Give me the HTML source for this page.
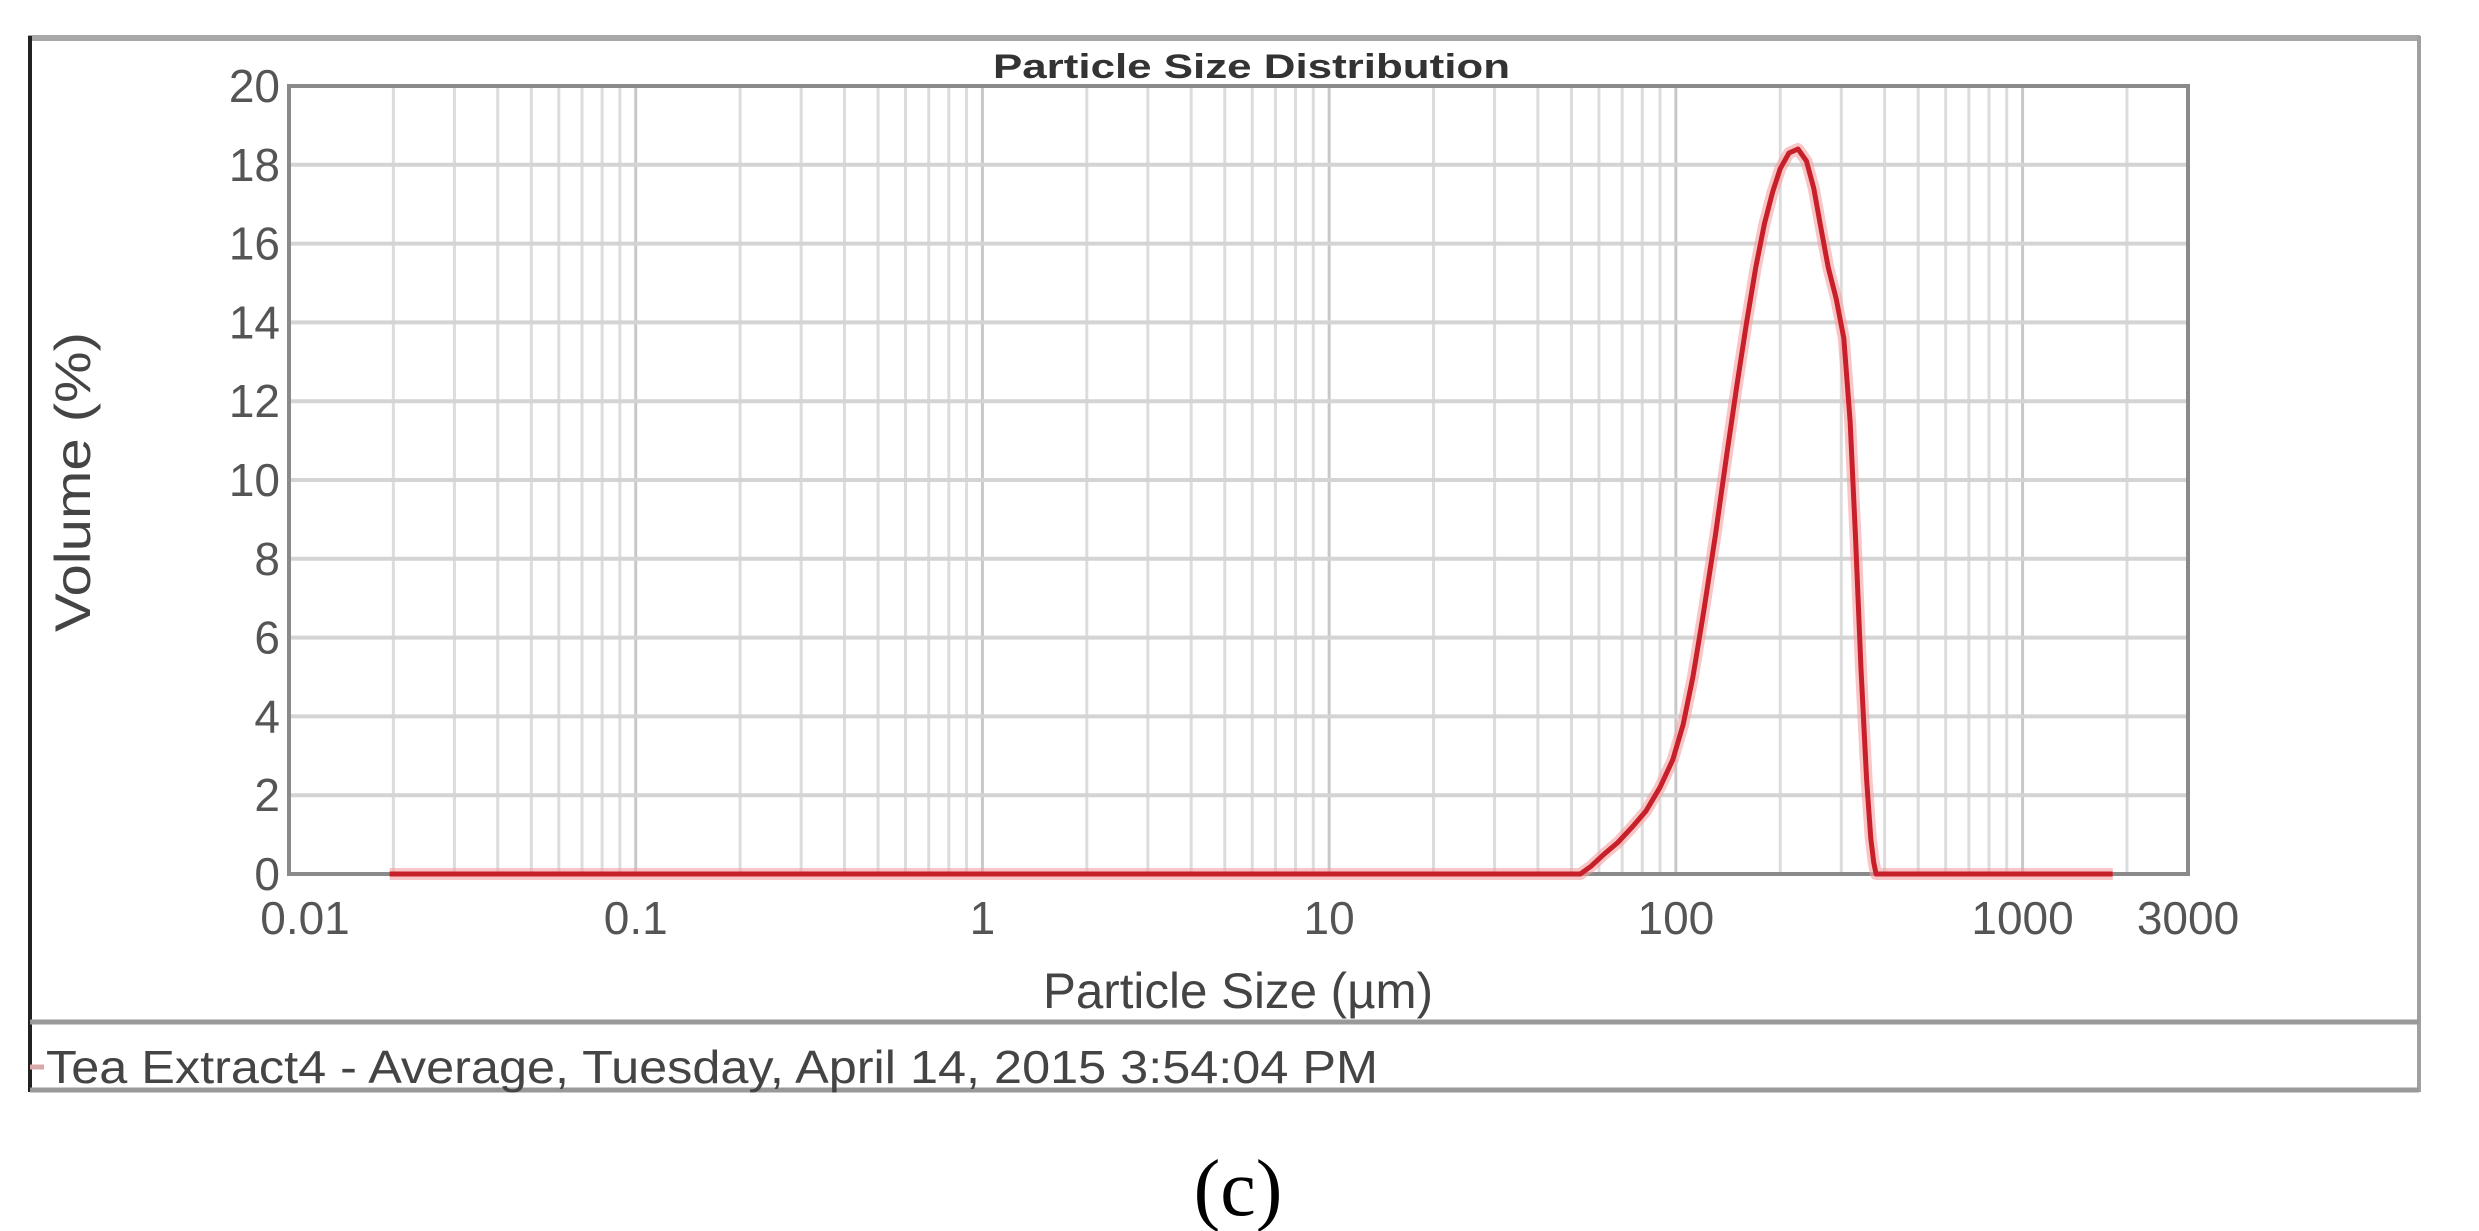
<!DOCTYPE html>
<html><head><meta charset="utf-8"><style>
html,body{margin:0;padding:0;background:#fff;}
svg{display:block;font-family:"Liberation Sans Narrow","Liberation Sans",sans-serif;}
</style></head><body>
<svg id="chart" width="2479" height="1231" viewBox="0 0 2479 1231" xmlns="http://www.w3.org/2000/svg">
<rect x="0" y="0" width="2479" height="1231" fill="#fff"/>
<line x1="28" y1="38" x2="2420" y2="38" stroke="#a8a8a8" stroke-width="6"/>
<line x1="2419" y1="36" x2="2419" y2="1092" stroke="#a0a0a0" stroke-width="4"/>
<line x1="30" y1="36" x2="30" y2="1092" stroke="#222" stroke-width="4"/>
<line x1="30" y1="1022" x2="2419" y2="1022" stroke="#999" stroke-width="5"/>
<line x1="30" y1="1090" x2="2419" y2="1090" stroke="#999" stroke-width="5"/>
<g id="grid"></g>
<rect x="289" y="86" width="1899" height="788" fill="none" stroke="#8a8a8a" stroke-width="4"/>
<g id="yticks"></g>
<g id="xticks"></g>
<path id="curve-glow" fill="none" stroke="#f4a0a0" stroke-width="12" stroke-linejoin="round" opacity="0.6"/>
<path id="curve" fill="none" stroke="#c8202a" stroke-width="5" stroke-linejoin="round"/>
<text x="993" y="78" textLength="517" lengthAdjust="spacingAndGlyphs" font-size="34" font-weight="bold" fill="#333">Particle Size Distribution</text>
<text x="1043" y="1008" textLength="390" lengthAdjust="spacingAndGlyphs" font-size="50" fill="#444">Particle Size (µm)</text>
<text transform="translate(90,632) rotate(-90)" textLength="300" lengthAdjust="spacingAndGlyphs" font-size="50" fill="#444">Volume (%)</text>
<line x1="30" y1="1067" x2="44" y2="1067" stroke="#d8a8a8" stroke-width="5"/>
<text x="46" y="1083" textLength="1332" lengthAdjust="spacingAndGlyphs" font-size="46" fill="#444">Tea Extract4 - Average, Tuesday, April 14, 2015 3:54:04 PM</text>
<text x="1238" y="1215" text-anchor="middle" font-size="80" font-family="Liberation Serif, serif" fill="#000">(c)</text>
</svg>
<script>
const sizes = [0.0195, 53, 57, 62, 68, 75, 82, 90, 98, 105, 112, 120, 130, 140, 150, 160, 170, 180, 190, 200, 212, 225, 238, 250, 262, 275, 290, 305, 318, 330, 342, 355, 365, 372, 378, 1820];
const volumes = [0, 0, 0.2, 0.5, 0.8, 1.2, 1.6, 2.2, 2.9, 3.8, 5.0, 6.6, 8.6, 10.6, 12.4, 14.0, 15.4, 16.5, 17.3, 17.9, 18.3, 18.4, 18.1, 17.4, 16.4, 15.4, 14.6, 13.6, 11.5, 8.5, 5.2, 2.4, 0.9, 0.3, 0, 0];
const yTicks = [0, 2, 4, 6, 8, 10, 12, 14, 16, 18, 20];
const xTickValues = [0.01, 0.1, 1, 10, 100, 1000, 3000];
const xTickLabels = ["0.01", "0.1", "1", "10", "100", "1000", "3000"];

const NS = "http://www.w3.org/2000/svg";
const L = 289, R = 2188, T = 86, B = 874;
const xMin = Math.log10(0.01), xMax = Math.log10(3000);
function xs(v){ return L + (Math.log10(v) - xMin) / (xMax - xMin) * (R - L); }
function ys(v){ return B - v / 20 * (B - T); }

const grid = document.getElementById('grid');
for (let d = -2; d <= 3; d++) {
  for (let m = 1; m <= 9; m++) {
    const v = m * Math.pow(10, d);
    if (v < 0.01 || v > 3000) continue;
    const ln = document.createElementNS(NS, 'line');
    
    
    ln.setAttribute('x1', xs(v)); ln.setAttribute('x2', xs(v));
    ln.setAttribute('y1', T); ln.setAttribute('y2', B);
    ln.setAttribute('stroke', m === 1 ? '#c8c8c8' : '#dcdcdc');
    ln.setAttribute('stroke-width', 3);
    grid.appendChild(ln);
  }
}
const yt = document.getElementById('yticks');
yTicks.forEach(v => {
  const ln = document.createElementNS(NS, 'line');
  
  
  ln.setAttribute('x1', L); ln.setAttribute('x2', R);
  ln.setAttribute('y1', ys(v)); ln.setAttribute('y2', ys(v));
  ln.setAttribute('stroke', '#d4d4d4'); ln.setAttribute('stroke-width', 4);
  grid.appendChild(ln);
  const t = document.createElementNS(NS, 'text');
  
  
  t.setAttribute('x', 280); t.setAttribute('y', ys(v) + 16);
  t.setAttribute('text-anchor', 'end'); t.setAttribute('font-size', 46); t.setAttribute('fill', '#555');
  t.textContent = String(v);
  yt.appendChild(t);
});
const xt = document.getElementById('xticks');
xTickValues.forEach((v, i) => {
  const t = document.createElementNS(NS, 'text');
  
  
  t.setAttribute('x', xs(v) + (i === 0 ? 16 : 0)); t.setAttribute('y', 934);
  t.setAttribute('text-anchor', 'middle'); t.setAttribute('font-size', 46); t.setAttribute('fill', '#555');
  t.textContent = xTickLabels[i];
  xt.appendChild(t);
});
const d = sizes.map((s, i) => (i ? 'L' : 'M') + xs(s).toFixed(1) + ',' + ys(volumes[i]).toFixed(1)).join(' ');
document.getElementById('curve').setAttribute('d', d);
document.getElementById('curve-glow').setAttribute('d', d);
</script>
</body></html>
